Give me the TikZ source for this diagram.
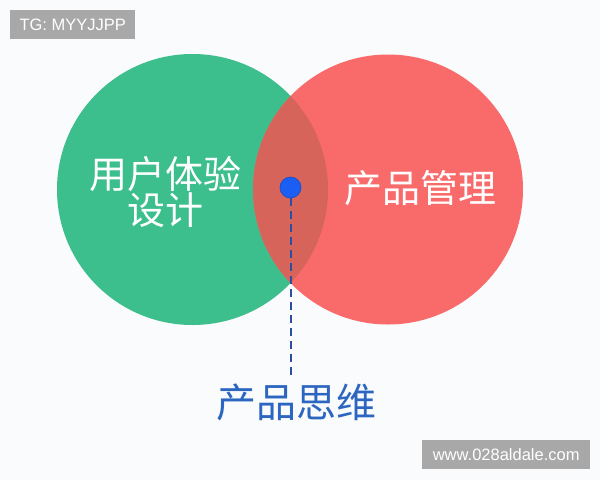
\documentclass[tikz,border=0pt]{standalone}
\usepackage{fontspec}
\setmainfont{Liberation Sans}
\newfontfamily\cjk{Noto Sans CJK SC}
\begin{document}
\begin{tikzpicture}[x=1pt,y=-1pt,
  wmbox/.style={fill=wmgray,text=white,font=\fontsize{16.5}{18}\selectfont,inner sep=0pt,minimum height=29pt,anchor=north west},
  bigtext/.style={text=white,font=\cjk\fontsize{38}{38}\selectfont,inner sep=0pt},
]
\definecolor{bg}{HTML}{FAFBFC}
\definecolor{wmgray}{HTML}{A8A8A8}
\definecolor{cgreen}{HTML}{3CBE8D}
\definecolor{cred}{HTML}{F96B6B}
\definecolor{cover}{HTML}{D7645B}
\definecolor{cdot}{HTML}{1A5EF3}
\definecolor{cdash}{HTML}{2A4FA0}
\definecolor{cblue}{HTML}{2C66C0}
\fill[bg] (0,0) rectangle (600,480);
\useasboundingbox (0,0) rectangle (600,480);
% circles
\fill[cgreen] (192.5,189.5) circle[radius=135.5];
\fill[cred] (388,189.5) circle[radius=135];
\begin{scope}
  \clip (192.5,189.5) circle[radius=135.5];
  \fill[cover] (388,189.5) circle[radius=135];
\end{scope}
\node[bigtext] (ux1) at (165,174) {用户体验};
\node[bigtext] (ux2) at (165,210) {设计};
\node[bigtext] (pm) at (420,188) {产品管理};
\node[circle,fill=cdot,draw=cdot!80!black,line width=0.6pt,minimum size=21pt,inner sep=0pt] (dot) at (290.5,187.5) {};
\coordinate (dashend) at (290.5,376);
\draw[cdash,line width=2pt,dash pattern=on 8pt off 5pt] (dot.south) -- (dashend);
\node[text=cblue,font=\cjk\fontsize{40}{40}\selectfont,inner sep=0pt] (pt) at (296,402) {产品思维};
% watermarks
\node[wmbox,minimum width=125pt] (wm1) at (10,10) {TG: MYYJJPP};
\node[wmbox,minimum width=168pt] (wm2) at (422,440) {www.028aldale.com};
\end{tikzpicture}
\end{document}
